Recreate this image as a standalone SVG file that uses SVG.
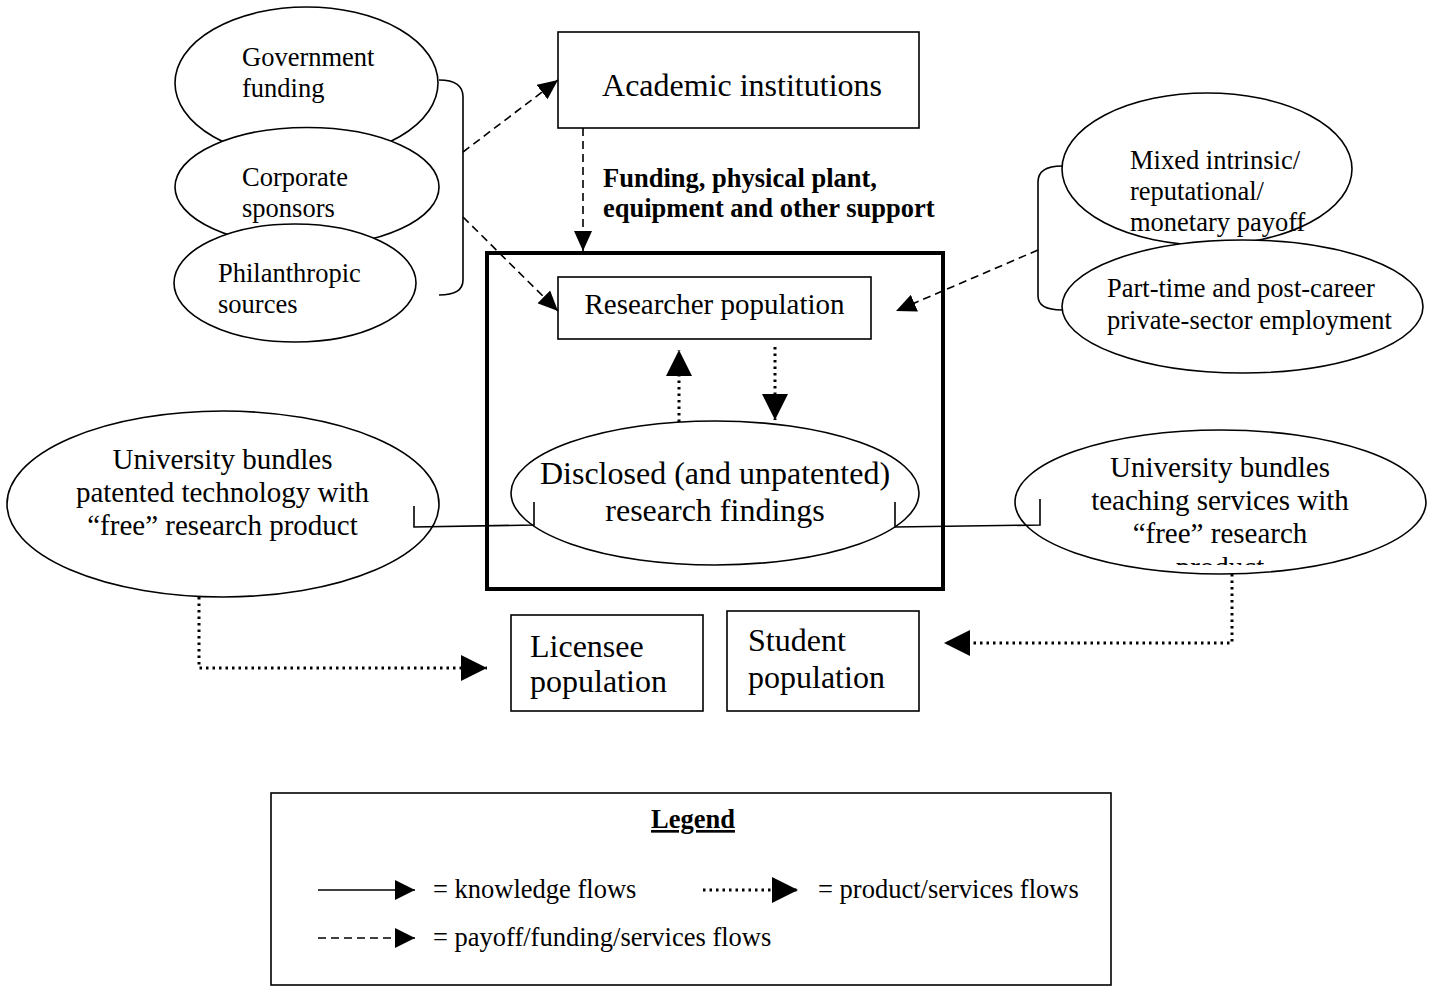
<svg xmlns="http://www.w3.org/2000/svg" width="1434" height="988" viewBox="0 0 1434 988">
  <style>
    text { font-family: "Liberation Serif", "Times New Roman", serif; fill: #000; }
    .s { font-size: 26.5px; }
    .m { font-size: 29px; }
    .l { font-size: 32px; }
    .b { font-weight: bold; }
    .c { text-anchor: middle; }
    .shape { fill: #fff; stroke: #000; stroke-width: 1.6; }
    .frame { fill: none; stroke: #000; stroke-width: 4; }
    .knowledge { fill: none; stroke: #000; stroke-width: 1.6; }
    .payoff { fill: none; stroke: #000; stroke-width: 1.6; stroke-dasharray: 8 5; }
    .product { fill: none; stroke: #000; stroke-width: 3; stroke-dasharray: 2.5 4; }
  </style>
  <defs>
    <marker id="head-dash" markerUnits="userSpaceOnUse" markerWidth="20" markerHeight="18" refX="20" refY="9" orient="auto">
      <path d="M0,0 L20,9 L0,18 Z" fill="#000"/>
    </marker>
    <marker id="head-dot" markerUnits="userSpaceOnUse" markerWidth="26" markerHeight="26" refX="26" refY="13" orient="auto">
      <path d="M0,0 L26,13 L0,26 Z" fill="#000"/>
    </marker>
    <marker id="head-key" markerUnits="userSpaceOnUse" markerWidth="20" markerHeight="20" refX="20" refY="10" orient="auto">
      <path d="M0,0 L20,10 L0,20 Z" fill="#000"/>
    </marker>
    <clipPath id="teach-clip">
      <rect x="1000" y="440" width="430" height="125"/>
    </clipPath>
  </defs>

  <!-- funding sources (stacked ellipses) -->
  <g id="government-funding">
    <ellipse class="shape" cx="306.5" cy="83" rx="131.5" ry="76"/>
    <text class="s" x="242" y="66">Government</text>
    <text class="s" x="242" y="97">funding</text>
  </g>
  <g id="corporate-sponsors">
    <ellipse class="shape" cx="307" cy="187" rx="132" ry="59.5"/>
    <text class="s" x="242" y="186">Corporate</text>
    <text class="s" x="242" y="217">sponsors</text>
  </g>
  <g id="philanthropic-sources">
    <ellipse class="shape" cx="295" cy="283" rx="121" ry="59"/>
    <text class="s" x="218" y="282">Philanthropic</text>
    <text class="s" x="218" y="313">sources</text>
  </g>

  <g id="academic-institutions">
    <rect class="shape" x="558" y="32" width="361" height="96"/>
    <text class="l c" x="742" y="96">Academic institutions</text>
  </g>

  <g id="support-label">
    <text class="s b" x="603" y="187">Funding, physical plant,</text>
    <text class="s b" x="603" y="217">equipment and other support</text>
  </g>

  <!-- researcher payoffs -->
  <g id="mixed-payoff">
    <ellipse class="shape" cx="1207" cy="169" rx="145" ry="76"/>
    <text class="s" x="1130" y="169">Mixed intrinsic/</text>
    <text class="s" x="1130" y="200">reputational/</text>
    <text class="s" x="1130" y="231">monetary payoff</text>
  </g>
  <g id="private-employment">
    <ellipse class="shape" cx="1242.5" cy="306.5" rx="180.5" ry="66.5"/>
    <text class="s" x="1107" y="297">Part-time and post-career</text>
    <text class="s" x="1107" y="329">private-sector employment</text>
  </g>

  <!-- university research system -->
  <g id="research-system">
    <rect class="frame" x="487" y="253" width="456" height="336"/>
  </g>
  <g id="researcher-population">
    <rect class="shape" x="558" y="277" width="313" height="62"/>
    <text class="m c" x="714.5" y="314">Researcher population</text>
  </g>
  <g id="research-findings">
    <ellipse class="shape" cx="715" cy="493" rx="204" ry="72"/>
    <text class="l c" x="715" y="484">Disclosed (and unpatented)</text>
    <text class="l c" x="715" y="521">research findings</text>
  </g>

  <g id="patent-bundle">
    <ellipse class="shape" cx="223" cy="504" rx="216" ry="93"/>
    <text class="m c" x="222.5" y="469">University bundles</text>
    <text class="m c" x="222.5" y="502">patented technology with</text>
    <text class="m c" x="222.5" y="535">“free” research product</text>
  </g>
  <g id="teaching-bundle">
    <ellipse class="shape" cx="1220.5" cy="502" rx="205.5" ry="72"/>
    <g clip-path="url(#teach-clip)">
      <text class="m c" x="1220" y="477">University bundles</text>
      <text class="m c" x="1220" y="510">teaching services with</text>
      <text class="m c" x="1220" y="543">“free” research</text>
      <text class="m c" x="1220" y="577">product</text>
    </g>
  </g>

  <g id="licensee-population">
    <rect class="shape" x="511" y="615" width="192" height="96"/>
    <text class="l" x="530" y="657">Licensee</text>
    <text class="l" x="530" y="692">population</text>
  </g>
  <g id="student-population">
    <rect class="shape" x="727" y="611" width="192" height="100"/>
    <text class="l" x="748" y="651">Student</text>
    <text class="l" x="748" y="688">population</text>
  </g>

  <!-- flows -->
  <g id="connectors">
    <path class="knowledge" d="M439,80 C455,80 463,86 463,97 L463,280 C463,290 455,295 439,295"/>
    <path class="knowledge" d="M1062,166 C1046,166 1038,172 1038,182 L1038,296 C1038,305 1046,310 1062,310"/>
    <path class="payoff" d="M463,152 L558,80" marker-end="url(#head-dash)"/>
    <path class="payoff" d="M463,217 L558,311" marker-end="url(#head-dash)"/>
    <path class="payoff" d="M583,128 L583,251" marker-end="url(#head-dash)"/>
    <path class="payoff" d="M1038,250 L896,311" marker-end="url(#head-dash)"/>
    <path class="product" d="M679,422 L679,350" marker-end="url(#head-dot)"/>
    <path class="product" d="M775,347 L775,420" marker-end="url(#head-dot)"/>
    <path class="product" d="M199,597 L199,668 L487,668" marker-end="url(#head-dot)"/>
    <path class="product" d="M1232,574 L1232,643 L944,643" marker-end="url(#head-dot)"/>
    <path class="knowledge" d="M414,506 L414,527 L534,525 L534,502"/>
    <path class="knowledge" d="M895,502 L895,527 L1040,525 L1040,499"/>
  </g>

  <!-- key -->
  <g id="legend">
    <rect class="shape" x="271" y="793" width="840" height="192"/>
    <text class="s b c" x="693" y="828" text-decoration="underline">Legend</text>
    <path class="knowledge" d="M318,890 L415,890" marker-end="url(#head-key)"/>
    <text class="s" x="433" y="898">= knowledge flows</text>
    <path class="product" d="M703,890 L798,890" marker-end="url(#head-dot)"/>
    <text class="s" x="818" y="898">= product/services flows</text>
    <path class="payoff" d="M318,938 L415,938" marker-end="url(#head-key)"/>
    <text class="s" x="433" y="946">= payoff/funding/services flows</text>
  </g>
</svg>
